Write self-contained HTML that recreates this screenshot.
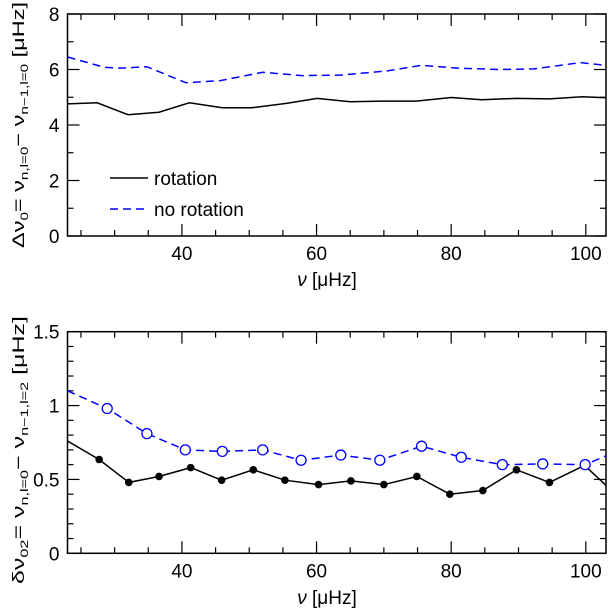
<!DOCTYPE html>
<html><head><meta charset="utf-8"><style>
body{margin:0;background:#fff}
svg text{font-family:"Liberation Sans",sans-serif;fill:#000}
</style></head><body>
<svg id="c" width="608" height="609" xmlns="http://www.w3.org/2000/svg">
<g id="top"></g>
<g id="bot"></g>
<text transform="translate(24,248) rotate(-90)" font-size="17" textLength="246" lengthAdjust="spacingAndGlyphs">Δν<tspan font-size="11" dy="4">0</tspan><tspan dy="-4">=  ν</tspan><tspan font-size="11" dy="4">n,l=0</tspan><tspan dy="-4">−  ν</tspan><tspan font-size="11" dy="4">n−1,l=0</tspan><tspan dy="-4">  [μHz]</tspan></text>
<text transform="translate(24,584) rotate(-90)" font-size="17" textLength="268" lengthAdjust="spacingAndGlyphs">δν<tspan font-size="11" dy="4">02</tspan><tspan dy="-4">=  ν</tspan><tspan font-size="11" dy="4">n,l=0</tspan><tspan dy="-4">−  ν</tspan><tspan font-size="11" dy="4">n−1,l=2</tspan><tspan dy="-4">  [μHz]</tspan></text>
<text x="327" y="286" font-size="19" text-anchor="middle"><tspan font-style="italic">ν</tspan>  [μHz]</text>
<text x="327" y="604" font-size="19" text-anchor="middle"><tspan font-style="italic">ν</tspan>  [μHz]</text>
<line x1="110" y1="178" x2="148" y2="178" stroke="#000" stroke-width="1.5"/>
<text x="154" y="185" font-size="19">rotation</text>
<line x1="110" y1="209" x2="148" y2="209" stroke="#0000ff" stroke-width="1.5" stroke-dasharray="8,5"/>
<text x="154" y="216" font-size="19">no rotation</text>
</svg>
<script>
const xTicks=[40,60,80,100];
const topYTicks=[0,2,4,6,8];
const botYTicks=[0,0.5,1,1.5];
const botYLabels=["0","0.5","1","1.5"];
const topRotX=[23,27.4,32,36.6,41.1,46,50.3,55.5,60.1,65,69.9,74.8,80,84.5,89.7,94.6,99.5,103];
const topRotY=[4.76,4.8,4.37,4.46,4.8,4.62,4.62,4.78,4.96,4.84,4.86,4.86,4.99,4.91,4.96,4.94,5.02,4.98];
const topNoX=[23,28.5,31,34.8,40.6,45.7,52,57.8,63.6,70.5,75.6,80.8,87.1,92.3,99.2,103];
const topNoY=[6.45,6.08,6.05,6.1,5.52,5.6,5.9,5.78,5.8,5.95,6.15,6.05,6.0,6.02,6.25,6.15];
const botRotX=[27.7,32.1,36.6,41.3,45.9,50.6,55.3,60.3,65.1,70,74.9,79.8,84.7,89.7,94.6,99.8];
const botRotY=[0.635,0.48,0.52,0.58,0.495,0.565,0.495,0.465,0.49,0.465,0.52,0.40,0.425,0.565,0.48,0.595];
const botRotStart=[23,0.76], botRotEnd=[103,0.46];
const botNoX=[28.9,34.8,40.5,46,52,57.7,63.6,69.4,75.6,81.5,87.6,93.6,99.9];
const botNoY=[0.98,0.81,0.70,0.69,0.70,0.63,0.665,0.63,0.725,0.65,0.60,0.605,0.60];
const botNoStart=[23,1.1], botNoEnd=[103,0.66];
const NS="http://www.w3.org/2000/svg";
const X0=67.5,X1=606,XMIN=23,XMAX=103;
const sx=v=>X0+(v-XMIN)/(XMAX-XMIN)*(X1-X0);
function mk(p,t,a){const e=document.createElementNS(NS,t);for(const k in a)e.setAttribute(k,a[k]);p.appendChild(e);return e;}
function panel(g,Y0,Y1,ymax,yT,yL,minorStep,pfx){
  const sy=v=>Y1-v/ymax*(Y1-Y0);
  const fr=mk(g,'rect',{x:X0,y:Y0,width:X1-X0,height:Y1-Y0,fill:'none',stroke:'#000','stroke-width':1.5});
  
  
  for(let v=25;v<=XMAX;v+=5){const L=(v%20===0)?12:6;
    mk(g,'line',{x1:sx(v),x2:sx(v),y1:Y1,y2:Y1-L,stroke:'#000','stroke-width':1.2});
    mk(g,'line',{x1:sx(v),x2:sx(v),y1:Y0,y2:Y0+L,stroke:'#000','stroke-width':1.2});}
  xTicks.forEach(v=>{const t=mk(g,'text',{x:sx(v),y:Y1+24,'font-size':19,'text-anchor':'middle'});t.textContent=v;
    
    });
  for(let i=0;i*minorStep<=ymax+1e-9;i++){const v=i*minorStep;const maj=yT.some(m=>Math.abs(m-v)<1e-9);const L=maj?12:6;
    mk(g,'line',{x1:X0,x2:X0+L,y1:sy(v),y2:sy(v),stroke:'#000','stroke-width':1.2});
    mk(g,'line',{x1:X1,x2:X1-L,y1:sy(v),y2:sy(v),stroke:'#000','stroke-width':1.2});}
  yT.forEach((v,i)=>{const t=mk(g,'text',{x:X0-8,y:sy(v)+7,'font-size':19,'text-anchor':'end'});t.textContent=yL[i];
    
    });
  return sy;
}
function line(g,xs,ys,sy,col,dash,name){
  const d=xs.map((x,i)=>(i?'L':'M')+sx(x).toFixed(1)+','+sy(ys[i]).toFixed(1)).join('');
  const p=mk(g,'path',{d:d,fill:'none',stroke:col,'stroke-width':1.5});
  if(dash)p.setAttribute('stroke-dasharray','8,5');
  
  
}
const cl=document.createElementNS(NS,'clipPath');cl.setAttribute('id','cp');document.getElementById('c').appendChild(cl);
mk(cl,'rect',{x:X0,y:0,width:X1-X0,height:609});
const gt=document.getElementById('top');
const syT=panel(gt,14,236,8,topYTicks,topYTicks.map(String),1,'top');
const ct=mk(gt,'g',{'clip-path':'url(#cp)'});
line(ct,topRotX,topRotY,syT,'#000',false,'top-rotation-line');
line(ct,topNoX,topNoY,syT,'#0000ff',true,'top-no-rotation-line');
const gb=document.getElementById('bot');
const syB=panel(gb,331.7,553.3,1.5,botYTicks,botYLabels,0.1,'bottom');
const cb=mk(gb,'g',{'clip-path':'url(#cp)'});
line(cb,[botRotStart[0]].concat(botRotX,[botRotEnd[0]]),[botRotStart[1]].concat(botRotY,[botRotEnd[1]]),syB,'#000',false,'bottom-rotation-line');
line(cb,[botNoStart[0]].concat(botNoX,[botNoEnd[0]]),[botNoStart[1]].concat(botNoY,[botNoEnd[1]]),syB,'#0000ff',true,'bottom-no-rotation-line');
botRotX.forEach((x,i)=>{const c=mk(cb,'circle',{cx:sx(x),cy:syB(botRotY[i]),r:3.8,fill:'#000'});
  
  });
botNoX.forEach((x,i)=>{const c=mk(cb,'circle',{cx:sx(x),cy:syB(botNoY[i]),r:5,fill:'#fff',stroke:'#0000ff','stroke-width':1.3});
  
  });
</script>
</body></html>
